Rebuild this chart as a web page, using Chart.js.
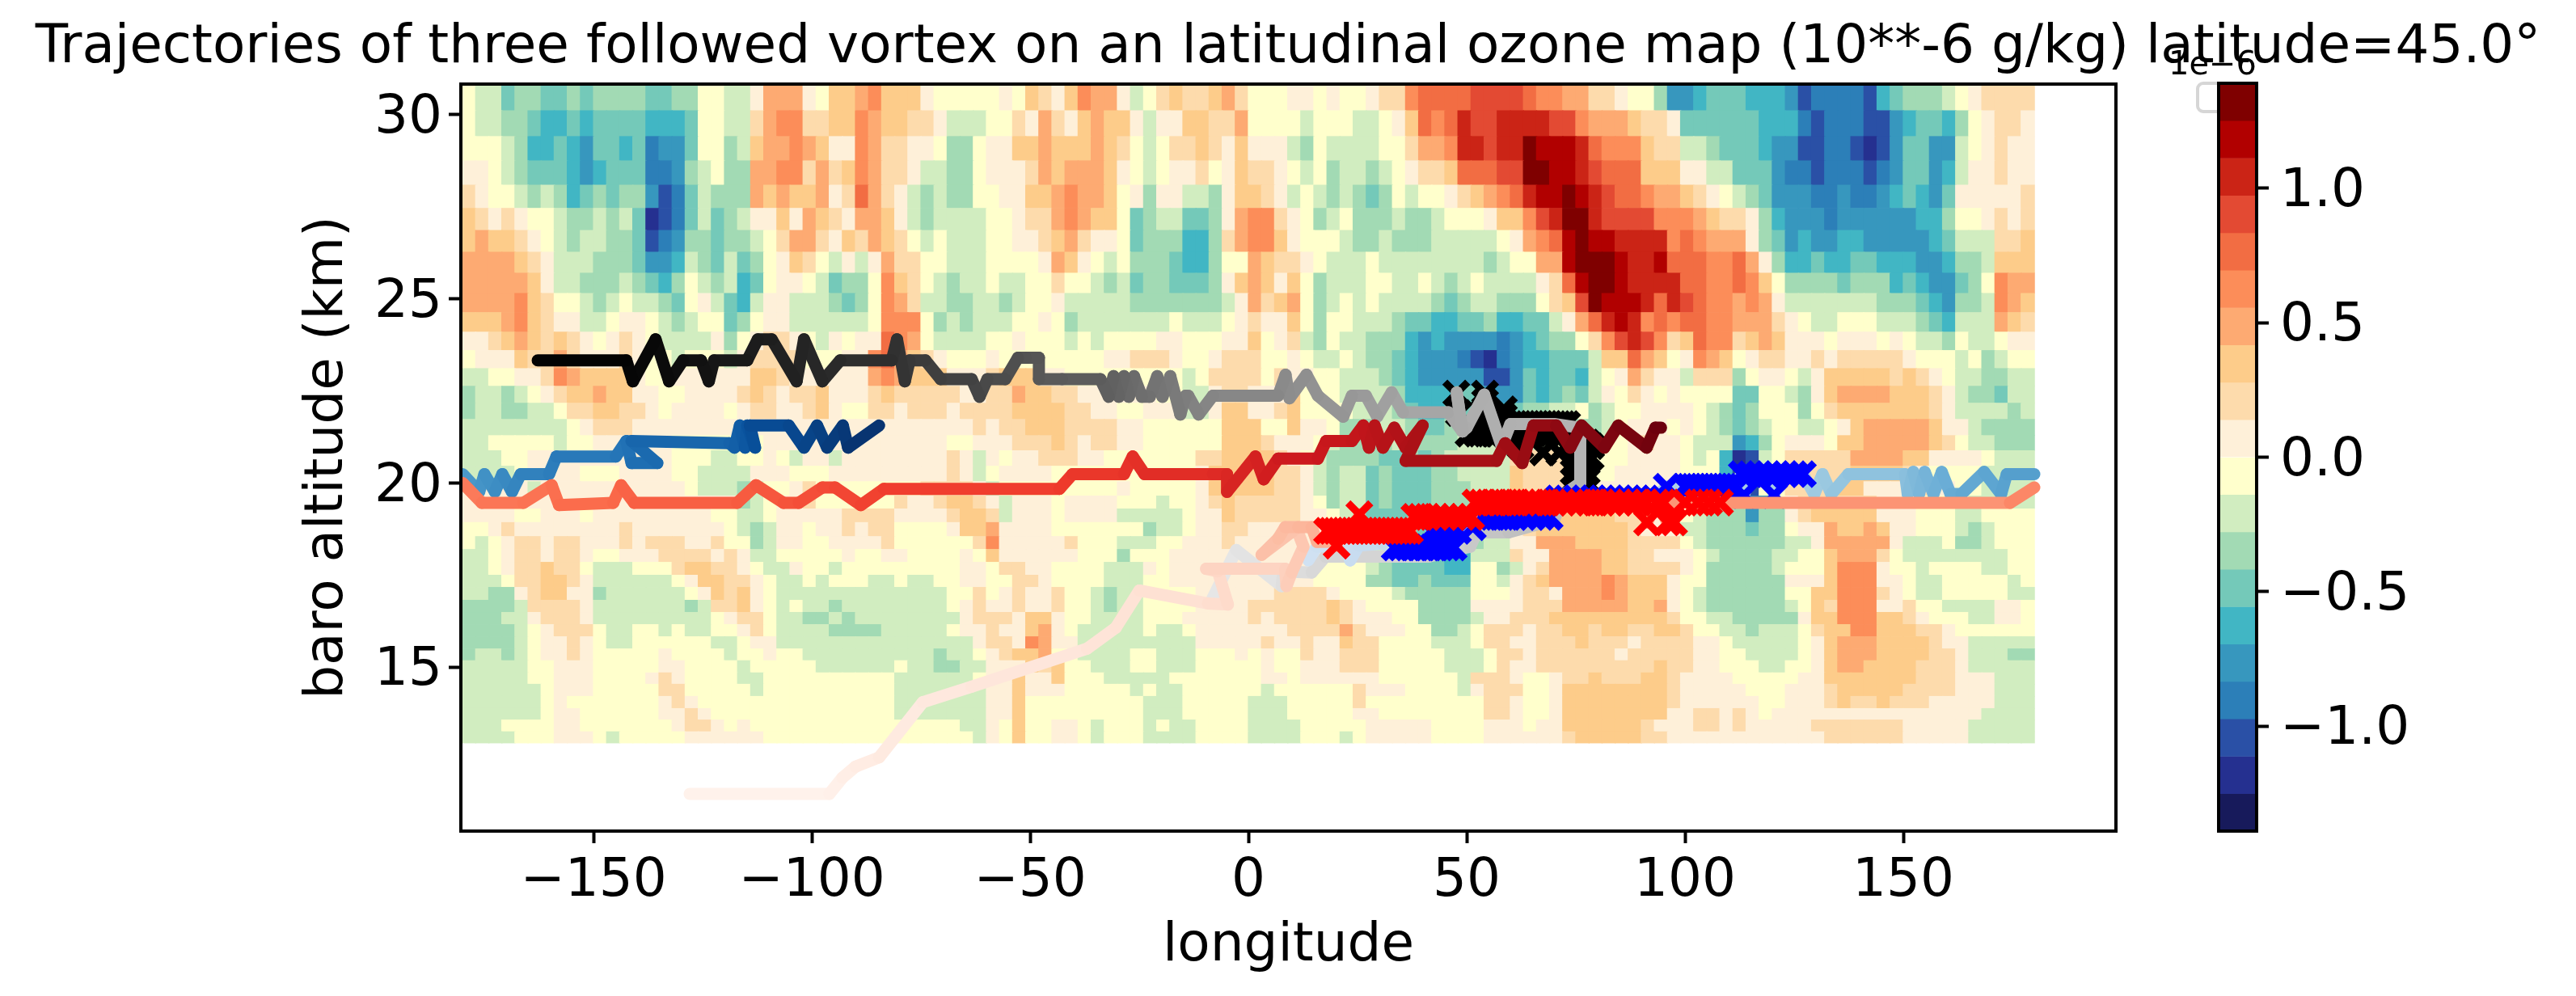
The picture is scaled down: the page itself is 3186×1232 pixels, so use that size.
<!DOCTYPE html>
<html><head><meta charset="utf-8">
<style>html,body{margin:0;padding:0;background:#fff}canvas{position:absolute;top:0}</style>
<script src="https://cdn.jsdelivr.net/npm/chart.js@4"></script>
</head><body>
<canvas id="main" width="3186" height="1232" style="left:0"></canvas>
<canvas id="cbar" width="586" height="1232" style="left:2600px"></canvas>
<script>
const titleText='Trajectories of three followed vortex on an latitudinal ozone map (10**-6 g/kg) latitude=45.0°';
const xLabel='longitude', yLabel='baro altitude (km)';
const xTicks=[-150,-100,-50,0,50,100,150];
const yTicks=[15,20,25,30];
const cbarTicks=[-1,-0.5,0,0.5,1];
const cbarOffset='1e\u22126';
const levelStep=0.139;
const levelCodes='0123456789abcdefghij';
const levelColors=['#171a5b','#253090','#2a50a6','#2c7fb8','#3797be','#41b6c4','#74c9b9','#a2dab4','#d1edc0','#ffffcc','#fef0d9','#fddbac','#fdcc8a','#fdaa72','#fc8d59','#f26d43','#e34a33','#cb2416','#b10000','#7f0000'];
const lonStart=-180, lonStep=3;
const altEdges=[30.83,30.11,29.41,28.75,28.09,27.46,26.86,26.27,25.70,25.15,24.63,24.10,23.60,23.11,22.63,22.17,21.73,21.29,20.88,20.46,20.04,19.65,19.30,18.93,18.55,18.20,17.85,17.50,17.17,16.82,16.49,16.16,15.83,15.50,15.18,14.85,14.54,14.21,13.88,13.57,13.25,12.94];
const heatRows=[
"98867 76676 77776 67799 88add da9cc decc c a999 99a9c baced da89b cbbcd b999a a9a99 abbef fffgg ggfee ddbba 99744 56665 55423 33325 67778 9abbb",
"98877 65565 66665 55699 88bde ebbcc edccb ba888 99bad bacdc ca8aa ccbbd 99998 99988 9acfe fhggh hhhgg edddc bba66 66665 55323 33224 56657 9abba",
"99987 55654 66563 44699 78cdd edcaa edbba a9779 aaccd cccdc b989b bcbac aaa87 98888 99bdd ehhgh hjiii hfeee cbb88 76665 44223 32124 66448 9abaa",
"aa987 66654 56663 34789 77dde ebdbc edbba 88779 aaabd cdddc a989a ab9ac bba98 97887 89abb cfffg gjjii hgfff cccaa 88666 43323 33234 66458 aabaa",
"ba998 78756 76774 23687 77dcd ccdab fdba8 78779 9aacc deddc 9a7aa 887ac cba89 87876 79899 abcde fhiij ihgff eddcb a9876 44433 43345 6546a aaaab",
"cbaba 99877 87861 23686 78aac adcba ddca8 78888 99abb dedcc 96788 667ad eeba9 78977 78778 999ac ceghj jhggg geeed cbba7 54443 44444 45579 9abab",
"cdccb a9878 87762 34776 7789b ddbac bdcb9 89888 99aab cdbaa 96777 557bd eeca9 99877 87778 88889 adefi jiihh hhefe ddda7 64544 55444 44568 88bbc",
"ddddc ba888 77764 45876 8679a cb98a 8adbb 99888 9999a dca98 97776 55799 dcbba 98889 88888 88878 99ddi jjjih hifff eefda 75565 56655 54457 78ccc",
"ddddd ca887 77876 57987 8569a a9867 79ecb 98788 98899 b9987 86776 667ac dcac9 78889 98898 78988 88abf ijjih hhhff eefec 97777 67775 65446 79edd",
"dddde cb998 78988 769a8 658aa 88876 79edb 88778 87899 a8888 87777 7778a dbcd9 78989 88887 67887 779bc gjiii hfhgf eeded a8888 88877 76547 78edc",
"cccde cbaa8 89aa9 87899 679aa 88888 89eee 97878 8899a 97888 88889 8889a baac9 79988 87665 56675 5668a dfhih efeff eeddd ba988 99988 87658 88dcb",
"aabcd cbcba 9aba9 8888a 79abb a98a9 aafed 98888 99a99 98989 999aa 999aa c9ab8 79887 77545 44443 45677 9begh gebcf eebcd caaa9 aaa9a 98879 889aa",
"9aaac bbdba aaba9 98999 8abbb b999a aefdc ba999 a9999 9999a abbba 99abb b99a9 88987 76544 43213 45566 68ccf dc9ae dc9ab baaba bbbbb a9998 97899",
"8899a abedc ccca9 9aaaa aaccb aaaaa adedc ccaaa bccca a9999 99999 89bbb b9baa 99888 76544 44422 46566 589ad baa8b bb79a a98ac ccccb cba98 87788",
"78878 9abcc dccaa 99aaa abcba bbcaa abcbb bbbaa bbdcc bbaaa aaa99 88abb aaac9 99888 87555 56644 46567 68a9b a9a99 99669 987ac ddddc ccba8 77688",
"78877 889bb ccbba 9aaaa 9abba abca9 9bbab bbabb bbccc cbbaa 99aaa 88acc aabc9 99988 87655 66655 67788 97899 aaaa9 87679 9979b ccccc ccba8 88878",
"88888 8889a bbbaa aaaaa aaaaa aaaaa aaaaa aaaab abbcc cbbbb aa999 999cc c99ca a9777 88766 77889 88898 7789a aa9a9 87678 99889 acddd ddcaa 87777",
"88999 99899 aaaaa a9999 999aa aaaaa aaaaa aa99a aabbb cbabb aa999 999cc cbaaa 98777 78877 78889 88898 8999a baa98 88457 9aaa9 ccddd ddcb9 88777",
"88899 aaaaa aaaaa a9998 899a9 8aa8a aaaaa aaba8 a9aab bbaa9 99999 9bbcc ccba9 87777 66767 88888 bbbbb a999a aaa98 95128 9bbbb bdddd ccaaa a9888",
"88889 aaaa9 99aaa a9988 88aaa 999aa aaaaa aaba8 9aaaa 99999 99999 9accc ccbba 87886 76667 78888 cbbbb 999aa aaa99 95218 9bbbb bcccc ba999 98888",
"aaaaa 8aaaa aaaaa aa988 87899 ab999 99999 bbbba 89999 99999 a9999 9accc ccbba 87886 76667 77888 cbbbb 9aaaa aaa99 85329 9bbbb ccaaa bbaa9 98888",
"aaaaa aaaaa aaaaa aaaaa a789a ab999 999ba abccb a8aaa 9aaaa 99989 9abcb bbbba 97886 76667 77777 ccbbb bbaaa aaa98 87434 9abbb bbbaa a9999 88888",
"aaaa9 9aaa9 aaaaa aaaa9 9889a aaaab bbbaa aabcc b8aaa 9aaaa 88888 9aacb bbbba a9886 66666 66888 bcccc cccbb aaa98 77747 7abcc cccaa a9998 89999",
"99aba aaaaa aabaa aaaaa 9878a a9aab abb99 99acc daaaa 99999 99788 9aabb aaa9a a9998 76666 55788 abccc ccccb aaa88 77767 79aad ccdca a9998 78999",
"989ab babba aabab bbaab 9978a a99aa aab99 9999b eaaaa ab999 88899 aaaba aaaaa a9999 87666 55788 aaddd ccccb bbb98 77777 788ad dddda 88897 78999",
"889ab babba 99aaa bbbba ba889 9999a 99aa9 999a9 caaaa aa999 7999a aaaaa aaaaa 99998 88766 55888 baadd ddccb baaa9 87777 8899c dddb9 88888 88899",
"889ab bcbb9 88899 9bccb ba988 a9989 99999 999aa 9bbaa 99998 88a9a aaaaa aaaaa 99998 76666 55997 8abdd ddccb bbba9 77777 8999c eeea9 98999 98899",
"8889b bccba 88888 89acc bba98 89899 98898 899aa 99bba 99998 8899a aaaaa aaaaa 99997 76676 66998 abcdd ddedc cca99 77777 7aaac eeeaa 98899 99989",
"8877a bccaa 78888 889ac bca98 88888 88888 8899b 9abaa b9987 88999 9aaaa aabbb ba999 98777 77999 abbad ddedc cca98 77777 799cc eeeba 98899 99988",
"77778 bbbba 88888 8878b bca98 98878 88888 889ab aabaa b9987 88999 9aaaa bbbbb bcba9 99977 77aaa abbbd ddddc cda98 77777 789cb eeeaa b9988 88aa9",
"77788 abbba 88888 88889 abb98 87787 88888 888ab bbacc a9988 88999 aaaaa babbb bcbaa a9977 778aa bbbcc ccccc ccb99 88777 77acc eeecc ba999 88aa9",
"77778 9abbb 98899 89889 9ab98 88877 77888 889aa baacd a9888 88988 9aaaa aaabb bbdba aa997 789bb babbc cbccb bccb9 98878 889bc ceecc cbba9 99999",
"77778 9aaba 98899 99998 89aa8 88888 88888 8888a bbaed aa888 88888 8aaaa abaab aacbb 99998 889bb aabbb cbbba bbbba a9888 889ac dddcc ccbaa 88888",
"78878 9aaba 99999 a9999 899a9 98888 88888 87889 abccd 99888 89988 8999a 9a99b aabbb 99999 8889b babbb bbbab bbbba a9988 889ac dddcc ccbba 88877",
"88888 99aaa 99999 aa999 98999 99888 88898 87788 aaacb c9988 89988 89999 9a99a aabbb 99999 8889b aabbb bbbbb bcbba a9998 899ac ddccc cbbba 88888",
"88888 99aaa 9999a ba999 98899 99999 99988 88889 aacaa c9998 88889 99999 9aa9a aaaaa 99999 98bbb a99ab bcbbb ccbaa aa999 99aac ccccc cbbba aa888",
"88888 89aaa 99999 bb999 99899 99999 99988 88888 aacaa a9999 98988 99999 98999 999ba aa999 98abb b99ac ccccc ccbaa aaa99 9aaab ccccc bbbba aa888",
"88888 89a99 99999 aba99 99999 99999 99988 88888 aac99 99999 99888 99999 88899 999b9 99999 999bb a99ac ccccc ccbaa aaaa9 9aaab cbbcb bbaaa aa888",
"88888 89aa9 99999 aaba9 99999 99999 99988 88888 aac99 99999 99888 99999 88899 999aa 99999 999bb a99ac ccccc ccaab baba9 aaaaa aaaaa aaaaa a8888",
"88899 99aa9 99999 9abba 9a999 99999 99999 99988 a9c99 aa989 99898 89999 88889 9999a aaaa9 999aa a9aac ccccc baaab babaa aaabb bbbbb aaaaa 88888",
"88889 99aaa 98999 99aaa aaa99 99999 99999 99998 a9c99 aa989 99888 89999 88889 9989a aaaa9 999aa aaaab ccccc bbaaa aaaaa aaaab bbbbb aaaaa 88888"
];
// red trajectory
const redLonA=[-128,-96,-93,-90,-84.6,-74.6,-63.4,-37,-30.4,-25,-9.3,-4.7,-7,-9.7,8.4,8.7,9.9,12.6,11,3,6.8,8.4,11.4,14.5,15.7,18];
const redAltA=[11.56,11.56,12,12.3,12.55,14.05,14.47,15.5,16.07,17.08,16.73,16.7,17.6,17.67,17.67,17.2,17.57,18.27,18.77,18.05,18.49,18.8,18.8,18.8,18.4,18.4];
const redMarkLon=[18,19,20,20.2,21,22,23,24,25,25.4,26,27,28,29,30,31,32,33,34,35,36,37,38,39.5,41,43,45,47,49,51,52,53.5,55,56.5,58,60,61.5,63,65,67,68.5,70,72,74,76,78,79.5,81,83,85,87,89,91,91.3,93.5,96,97.5,95,100,103,105.5,108];
const redMarkAlt=[18.7,18.7,18.7,18.3,18.7,18.7,18.7,18.7,18.7,19.15,18.7,18.7,18.7,18.7,18.7,18.7,18.7,18.7,18.7,18.7,18.7,18.7,19.08,19.08,19.08,19.08,19.08,19.08,19.08,19.08,19.47,19.47,19.47,19.47,19.47,19.47,19.47,19.47,19.47,19.47,19.47,19.47,19.47,19.47,19.47,19.47,19.47,19.47,19.47,19.47,19.47,19.47,19.47,18.93,19.47,18.93,18.93,19.47,19.47,19.47,19.47,19.47];
const redLonC=[108,174.4,180];
const redAltC=[19.46,19.46,19.88];
const redLonD=[-180,-175.6,-166.1,-159.6,-157.9,-145.5,-143.7,-140.7,-117.1,-112.8,-106.5,-103,-97.6,-94.7,-88.8,-83.5,-43.3,-40.3,-28.5,-26.5,-23.8,-8.1,-4.9,-4.9,1.6,3.5,6.8,15.9,17.8,23.7,26.3,27.6,28.9,30.8,33.4,36,39.9,36,56.8,58.8,62.7,65.3,70.5,73.7,76.3,81.5,84.7,91.2,93.2,94.5];
const redAltD=[20,19.46,19.46,19.94,19.4,19.46,19.94,19.46,19.46,19.94,19.46,19.46,19.88,19.88,19.4,19.84,19.84,20.24,20.24,20.72,20.24,20.24,20.24,19.76,20.72,20.1,20.66,20.66,21.14,21.14,21.56,20.96,21.56,20.96,21.5,20.96,21.56,20.6,20.6,21.08,20.54,21.56,21.56,20.96,21.56,20.96,21.56,20.96,21.5,21.5];
// blue trajectory
const blueLonA=[13.7,15.7,22.2,23.3,25.3,30.6,33.5];
const blueAltA=[17.9,18.27,18.35,17.9,18.3,18.35,18.25];
const blueMarkLon=[33.5,35,36.5,38,39.5,41,42.5,44,45.5,47,42,44,46,48,51.4,53,54.5,56,58,59.5,61,63,65,67,69,71,73,75,77,79,81,83,85,87,89,91,93,95.8,100,101,102,103,104,105,106,107,108,109,110,111,113,113.5,115,117,119,120.4,121,123,125,127];
const blueMarkAlt=[18.25,18.25,18.25,18.25,18.25,18.25,18.25,18.25,18.25,18.25,18.7,18.7,18.7,18.7,18.8,19.08,19.08,19.08,19.08,19.08,19.08,19.08,19.08,19.08,19.08,19.58,19.58,19.58,19.58,19.58,19.58,19.58,19.58,19.58,19.58,19.58,19.58,19.9,19.9,19.9,19.9,19.9,19.9,19.9,19.9,19.9,19.9,19.9,19.9,19.9,20.24,19.67,20.24,20.24,20.24,19.67,20.24,20.24,20.24,20.24];
const blueLonB=[127,129.6,131.5,133.5,137.4,150.4,151,152.3,153.6,154.9,156.9,158.8,160.8,163.3,168.5,172.4,173.7,180];
const blueAltB=[20.24,19.7,20.24,19.7,20.24,20.24,19.7,20.3,19.7,20.3,19.7,20.3,19.7,19.7,20.3,19.7,20.24,20.24];
const blueLonC=[-180,-176.2,-175,-172.6,-170.9,-168.7,-166.7,-160.2,-158.5,-144.9,-142.5,-141.3,-135.4,-141.3,-118.9,-117.7,-116.5,-115.3,-114.8,-113,-114.2,-105.3,-101.8,-98.8,-96.5,-92.9,-91.7,-84.6];
const blueAltC=[20.24,19.76,20.24,19.76,20.24,19.76,20.24,20.24,20.72,20.72,21.14,20.54,20.54,21.14,21.08,20.96,21.56,20.96,21.56,20.96,21.56,21.56,20.96,21.56,20.96,21.56,20.96,21.56];
// grey trajectory
const greyLonA=[-8.5,-2.8,7.6,8,14.5,17.6,40,41.3,50.8,52.3,59.6,70,72.4];
const greyAltA=[16.8,18.18,17.2,17.6,17.57,18,18,18,18.27,18.66,18.66,19,19.7];
const greyLonB=[72.4,76,76,70,60,58,54,50,49,47.7,49];
const greyAltB=[19.7,20,21.5,21.6,21.6,21,22.4,21.5,21.4,22.46,21.4];
const greyLonC=[49,45.8,35.4,32.8,29.5,26.9,23.7,21.7,15.9,13.3,9.4,8.5,6.8,-8.15,-11.4,-13.8,-14.4,-15.6,-17.9,-19.7,-20.9,-22.6,-24.4,-26.2,-27.4,-28.5,-29.7,-30.9,-32,-33.9,-42.7,-48,-48,-51,-52.8,-55.7,-59.8,-61.6,-63.4,-70.5,-74,-77.6,-78.7,-80.5,-81.7,-93.5,-97.6,-101.8,-103.5,-109.2,-112.4,-114.8,-122.4,-123.6,-125.4,-129.5,-132.7,-135.8,-141,-142.5,-162.8];
const greyAltC=[21.4,21.92,21.92,22.46,21.8,22.37,22.37,21.8,22.37,22.94,22.3,22.94,22.37,22.37,21.86,22.37,22.37,21.86,22.9,22.34,22.9,22.34,22.34,22.9,22.34,22.9,22.34,22.9,22.34,22.82,22.82,22.82,23.4,23.4,23.4,22.82,22.82,22.34,22.82,22.82,23.33,23.33,22.76,23.9,23.33,23.33,22.76,23.9,22.76,23.9,23.9,23.33,23.33,22.76,23.33,23.33,22.76,23.9,22.76,23.33,23.33];
const blackMarkLon=[47.6,48.2,50.4,54.2,54.2,54.2,54.2,54.2,54.2,52.3,53.2,55.2,56.1,57,58.5,58.5,58.5,59.9,59,60.5,62.3,61,62,63,64,65,66,67,68,69,70,71,72,73,62,63.5,65,66.5,68,69.5,71,72.5,74,67.5,71.2,74.5,75.5,76.5,77.5,78.5,74.8,76,77.2,78.4,74.5,75.5,76.5,77.5,74.5,75.5,76.5,77.5,75,76,77,75.5,76.5,75.7];
const blackMarkAlt=[22.43,21.9,21.34,22.43,22.2,22,21.8,21.6,21.4,21.34,21.34,21.34,21.34,21.34,22,21.8,21.6,21.43,21.3,21.3,21,21.6,21.6,21.6,21.6,21.6,21.6,21.6,21.6,21.6,21.6,21.6,21.6,21.6,21.35,21.35,21.35,21.35,21.35,21.35,21.35,21.35,21.35,20.83,20.83,21.1,21.1,21.1,21.1,21,20.8,20.8,20.8,20.7,20.55,20.55,20.55,20.55,20.3,20.3,20.3,20.3,20.1,20.1,20.1,19.95,19.95,19.8];
const reds=['#fff5f0','#fee0d2','#fcbba1','#fc9272','#fb6a4a','#ef3b2c','#cb181d','#a50f15','#67000d'];
const blues=['#f7fbff','#deebf7','#c6dbef','#9ecae1','#6baed6','#4292c6','#2171b5','#08519c','#08306b'];
const greys=['#ffffff','#f0f0f0','#d9d9d9','#bdbdbd','#969696','#737373','#525252','#252525','#000000'];

const FF='"DejaVu Sans"';
const TICK=66, LAB=66, TITLE=66;
function hex(c){return [1,3,5].map(i=>parseInt(c.substr(i,2),16));}
function cmap(st,t){t=Math.max(0,Math.min(1,t))*(st.length-1);const i=Math.min(st.length-2,Math.floor(t)),f=t-i,a=hex(st[i]),b=hex(st[i+1]);return 'rgb('+a.map((v,k)=>Math.round(v+(b[k]-v)*f)).join(',')+')';}
function zip(a,b){return a.map((v,i)=>({x:v,y:b[i]}));}
function track(lon,alt,st,t0,t1,order){const n=lon.length-1;return {type:'line',data:zip(lon,alt),order,borderWidth:15,pointRadius:0,tension:0,borderColor:cmap(st,t0),borderCapStyle:'round',borderJoinStyle:'round',segment:{borderColor:c=>cmap(st,t0+(t1-t0)*c.p0DataIndex/n)}};}
function marks(lon,alt,color,order){return {type:'line',data:zip(lon,alt),order,showLine:false,pointStyle:'crossRot',pointRadius:20,pointBorderWidth:9,pointBorderColor:color,pointBackgroundColor:color,borderColor:color};}
const heatData=[],heatCols=[];
heatRows.forEach((raw,r)=>{const s=raw.replace(/\s/g,'');for(let c=0;c<120;c++){const ch=s[c]||s[s.length-1];heatData.push({x:lonStart+lonStep*(c+0.5),y:[altEdges[r+1],altEdges[r]]});heatCols.push(levelColors[levelCodes.indexOf(ch)]);}});
const pm=v=>String(v).replace('-','\u2212');
const framePlugin={id:'frame',afterDatasetsDraw(ch){const a=ch.chartArea,g=ch.ctx;g.save();g.strokeStyle='#000';g.lineWidth=4;g.strokeRect(a.left,a.top,a.right-a.left,a.bottom-a.top);
  g.strokeStyle='#d6d6d6';g.lineWidth=4;g.fillStyle='#fff';g.beginPath();g.roundRect(2718,103,60,35,7);g.fill();g.stroke();g.restore();}};
new Chart(document.getElementById('main'),{type:'bar',plugins:[framePlugin],data:{datasets:[
  {type:'bar',data:heatData,backgroundColor:heatCols,order:100,grouped:false,barThickness:17,borderWidth:0},
  marks(blackMarkLon,blackMarkAlt,'#000',60),
  track(greyLonA,greyAltA,greys,0.18,0.4,50),track(greyLonB,greyAltB,greys,0.4,0.44,50),track(greyLonC,greyAltC,greys,0.44,1,50),
  track(blueLonA,blueAltA,blues,0.2,0.28,40),track(blueMarkLon,blueMarkAlt,blues,0.28,0.35,40),track(blueLonB,blueAltB,blues,0.36,0.58,40),track(blueLonC,blueAltC,blues,0.6,1,40),
  marks(blueMarkLon,blueMarkAlt,'#0000ff',30),
  track(redLonA,redAltA,reds,0.02,0.3,20),track(redMarkLon,redMarkAlt,reds,0.3,0.37,20),track(redLonC,redAltC,reds,0.37,0.45,20),track(redLonD,redAltD,reds,0.45,1,20),
  marks(redMarkLon,redMarkAlt,'#ff0000',10)
]},options:{responsive:false,animation:false,devicePixelRatio:1,events:[],
  layout:{padding:0},
  plugins:{legend:{display:false},tooltip:{enabled:false},
    title:{display:true,text:titleText,color:'#000',font:{family:FF,size:TITLE,weight:'normal',lineHeight:1.2},padding:{top:20.4,bottom:4.4}}},
  scales:{
    x:{type:'linear',offset:false,min:-180.4,max:198.7,afterBuildTicks:s=>{s.ticks=xTicks.map(v=>({value:v}));},afterFit:s=>{s.height=204;},
      ticks:{color:'#000',font:{family:FF,size:TICK},padding:8,maxRotation:0,autoSkip:false,callback:pm},
      grid:{offset:false,drawOnChartArea:false,drawTicks:true,tickLength:15,tickWidth:4,tickColor:'#000'},border:{display:false},
      title:{display:true,text:xLabel,color:'#000',font:{family:FF,size:LAB},padding:{top:0,bottom:22}}},
    y:{type:'linear',min:10.55,max:30.83,afterBuildTicks:s=>{s.ticks=yTicks.map(v=>({value:v}));},afterFit:s=>{s.width=570;},
      ticks:{color:'#000',font:{family:FF,size:TICK},padding:8,labelOffset:5,autoSkip:false,callback:pm},
      grid:{drawOnChartArea:false,drawTicks:true,tickLength:15,tickWidth:4,tickColor:'#000'},border:{display:false},
      title:{display:true,text:yLabel,color:'#000',font:{family:FF,size:LAB},padding:{top:366,bottom:0}}},
    yR:{type:'linear',position:'right',min:0,max:1,afterFit:s=>{s.width=569;},ticks:{display:false},grid:{display:false,drawTicks:false},border:{display:false}}
  }}});
const cbarEdges=levelColors.map((c,i)=>(i-10)*levelStep);
const cbarData=levelColors.map((c,i)=>({x:'c',y:[cbarEdges[i],cbarEdges[i]+levelStep]}));
const cbarPlugin={id:'cbframe',afterDatasetsDraw(ch){const a=ch.chartArea,g=ch.ctx;g.save();g.strokeStyle='#000';g.lineWidth=4;g.strokeRect(a.left,a.top,a.right-a.left,a.bottom-a.top);
  g.fillStyle='#000';g.font='40px '+FF;g.textAlign='right';g.textBaseline='alphabetic';g.fillText(cbarOffset,a.right,92);g.restore();}};
new Chart(document.getElementById('cbar'),{type:'bar',plugins:[cbarPlugin],data:{labels:['c'],datasets:[{data:cbarData,backgroundColor:levelColors,barThickness:47,grouped:false,borderWidth:0}]},
  options:{responsive:false,animation:false,devicePixelRatio:1,events:[],
    layout:{padding:{left:144,right:0,top:103,bottom:204}},
    plugins:{legend:{display:false},tooltip:{enabled:false},title:{display:false}},
    scales:{x:{type:'category',display:false,offset:true},
      y:{position:'right',min:-1.39,max:1.39,afterBuildTicks:s=>{s.ticks=cbarTicks.map(v=>({value:v}));},afterFit:s=>{s.width=395;},
        ticks:{color:'#000',font:{family:FF,size:TICK},padding:14,labelOffset:5,autoSkip:false,callback:v=>pm(v.toFixed(1))},
        grid:{drawOnChartArea:false,drawTicks:true,tickLength:15,tickWidth:4,tickColor:'#000'},border:{display:false}}}}});
</script>
</body></html>
